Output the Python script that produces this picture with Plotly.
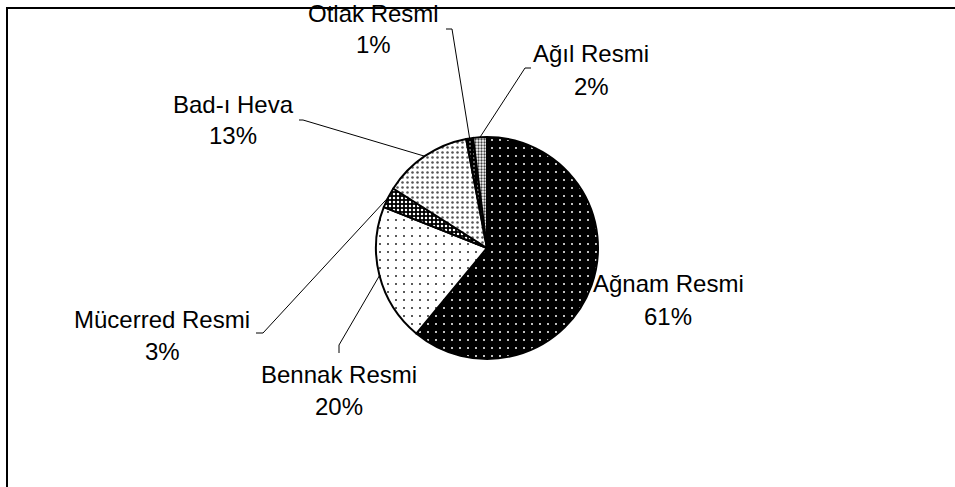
import math
import plotly.graph_objects as go

# Share of each tax item (percent), clockwise from 12 o'clock
labels = ["Ağnam Resmi", "Bennak Resmi", "Mücerred Resmi", "Bad-ı Heva", "Otlak Resmi", "Ağıl Resmi"]
values = [61, 20, 3, 13, 1, 2]

# Fill patterns per slice: (background, foreground, shape, tile size, solidity)
patterns = [
    ("black", "white", ".", 8, 0.05),
    ("white", "#222222", ".", 8, 0.05),
    ("black", "white", ".", 4, 0.3),
    ("white", "#555555", ".", 5, 0.2),
    ("black", "white", ".", 4, 0.1),
    ("white", "#444444", ".", 3, 0.45),
]

W, H = 955, 487
CX, CY, R = 487, 248, 111  # pie centre and radius in pixels
FONT = dict(family="Liberation Sans, Arial, sans-serif", size=24, color="black")

# Label centre x, name-line y and percent-line y (px) for each slice
label_pos = {
    "Ağnam Resmi": (668, 283, 316),
    "Bennak Resmi": (339, 374, 406),
    "Mücerred Resmi": (162, 319, 351),
    "Bad-ı Heva": (233, 104, 136),
    "Otlak Resmi": (373, 13, 45),
    "Ağıl Resmi": (591, 53, 86),
}
# Leader-line elbow points (px)
leader_elbows = {
    "Bennak Resmi": [(339, 345), (339, 353)],
    "Mücerred Resmi": [(263, 333), (256, 333)],
    "Bad-ı Heva": [(303, 120), (299, 120)],
    "Otlak Resmi": [(452, 29), (446, 29)],
    "Ağıl Resmi": [(525, 68), (531, 68)],
}


def px(x, y):
    return x / W, 1 - y / H


fig = go.Figure(
    go.Pie(
        labels=labels,
        values=values,
        sort=False,
        direction="clockwise",
        rotation=0,
        textinfo="none",
        hoverinfo="label+percent",
        showlegend=False,
        marker=dict(
            colors=[p[0] for p in patterns],
            line=dict(color="black", width=2),
            pattern=dict(
                shape=[p[2] for p in patterns],
                bgcolor=[p[0] for p in patterns],
                fgcolor=[p[1] for p in patterns],
                size=[p[3] for p in patterns],
                solidity=[p[4] for p in patterns],
                fillmode="replace",
            ),
        ),
        domain=dict(
            x=[(CX - R) / W, (CX + R) / W],
            y=[1 - (CY + R) / H, 1 - (CY - R) / H],
        ),
    )
)

total = sum(values)
shapes = []
annotations = []
cum = 0
for lab, val in zip(labels, values):
    mid = (cum + val / 2) / total * 2 * math.pi
    cum += val
    ex, ey = CX + R * math.sin(mid), CY - R * math.cos(mid)
    if lab in leader_elbows:
        pts = [(ex, ey)] + leader_elbows[lab]
        path = "M " + " L ".join(f"{px(x, y)[0]},{px(x, y)[1]}" for x, y in pts)
        shapes.append(dict(type="path", xref="paper", yref="paper", path=path,
                           line=dict(color="black", width=1)))
    lx, ly_name, ly_pct = label_pos[lab]
    for txt, ly in ((lab, ly_name), (f"{round(val / total * 100)}%", ly_pct)):
        ax, ay = px(lx, ly)
        annotations.append(dict(
            x=ax, y=ay, xref="paper", yref="paper", showarrow=False,
            text=txt, font=FONT, xanchor="center", yanchor="middle",
        ))

# Chart-area frame
shapes.append(dict(type="rect", xref="paper", yref="paper",
                   x0=px(7, 0)[0], x1=px(W + 5, 0)[0],
                   y0=px(0, H + 5)[1], y1=px(0, 8)[1],
                   line=dict(color="black", width=2)))

fig.update_layout(
    width=W, height=H,
    margin=dict(l=0, r=0, t=0, b=0),
    paper_bgcolor="white", plot_bgcolor="white",
    shapes=shapes, annotations=annotations,
)

fig.write_html("out.html")
